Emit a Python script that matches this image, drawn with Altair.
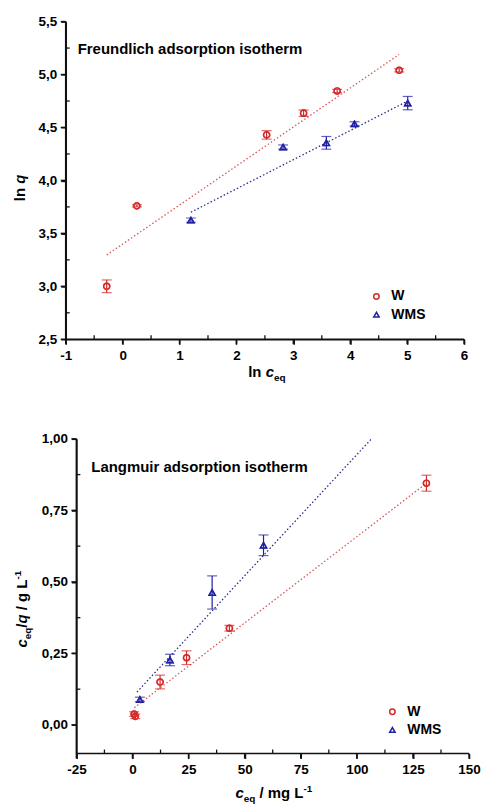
import altair as alt
import pandas as pd

# ---------------- data ----------------
SERIES = ["W", "WMS"]

# Freundlich panel: ln c_eq vs ln q
FR_W_X = [-0.28, 0.25, 2.53, 3.18, 3.77, 4.86]
FR_W_Y = [3.00, 3.76, 4.43, 4.635, 4.845, 5.04]
FR_W_ERR = [0.06, 0.01, 0.04, 0.03, 0.015, 0.015]
FR_WMS_X = [1.20, 2.82, 3.58, 4.075, 5.01]
FR_WMS_Y = [3.625, 4.315, 4.355, 4.534, 4.73]
FR_WMS_ERR = [0.02, 0.02, 0.06, 0.02, 0.063]
FR_FIT_W_X = [-0.28, 4.86]
FR_FIT_W_Y = [3.296, 5.19]
FR_FIT_WMS_X = [1.20, 5.01]
FR_FIT_WMS_Y = [3.70, 4.75]

# Langmuir panel: c_eq vs c_eq/q
LA_W_X = [0.76, 1.28, 12.3, 24.1, 43.2, 131.0]
LA_W_Y = [0.038, 0.030, 0.150, 0.235, 0.338, 0.845]
LA_W_ERR = [0.008, 0.008, 0.024, 0.024, 0.010, 0.028]
LA_WMS_X = [3.3, 16.7, 35.5, 58.4]
LA_WMS_Y = [0.089, 0.227, 0.463, 0.628]
LA_WMS_ERR = [0.008, 0.020, 0.058, 0.036]
LA_FIT_W_X = [0.8, 131.0]
LA_FIT_W_Y = [0.06, 0.845]
LA_FIT_WMS_X = [2.0, 106.5]
LA_FIT_WMS_Y = [0.115, 1.0]

# axis ranges and ticks
FR_X_AXIS = [-1, 6]
FR_Y_AXIS = [2.5, 5.5]
FR_X_TICKS = [-1, 0, 1, 2, 3, 4, 5, 6]
FR_X_MINOR = [-0.5, 0.5, 1.5, 2.5, 3.5, 4.5, 5.5]
FR_Y_TICKS = [2.5, 3.0, 3.5, 4.0, 4.5, 5.0, 5.5]
FR_Y_MINOR = [2.75, 3.25, 3.75, 4.25, 4.75, 5.25]
LA_X_AXIS = [-25, 150]
LA_Y_AXIS = [-0.1, 1.0]
LA_X_TICKS = [-25, 0, 25, 50, 75, 100, 125, 150]
LA_X_MINOR = [-12.5, 12.5, 37.5, 62.5, 87.5, 112.5, 137.5]
LA_Y_TICKS = [0.0, 0.25, 0.5, 0.75, 1.0]
LA_Y_MINOR = [0.125, 0.375, 0.625, 0.875]

FR_TITLE = "Freundlich adsorption isotherm"
LA_TITLE = "Langmuir adsorption isotherm"

# ---------------- style ----------------
FONT = "Liberation Sans"
RED = "#d42a2a"
BLUE = "#2020a4"
RED_LINE = "#d25a5a"
BLUE_LINE = "#2c2c8c"
INK = "#111111"
ONE = pd.DataFrame({"k": [0]})

CHAR_W = {"l": 278, "n": 611, " ": 278, "c": 556, "e": 556, "q": 611, "/": 278,
          "m": 889, "g": 611, "L": 611, "-": 333, "1": 556}


def tw(s, size):
    return sum(CHAR_W.get(ch, 556) for ch in s) * size / 1000.0


def rich(pieces, x, y, angle=0):
    total = sum(tw(t, s) for t, s, _, _ in pieces)
    cur = -total / 2.0
    out = []
    for t, s, st, sh in pieces:
        lead = len(t) - len(t.lstrip(" "))
        vis = t.strip(" ")
        start = cur + tw(" " * lead, s)
        kw = dict(text=vis, font=FONT, fontSize=s, fontWeight="bold", fontStyle=st,
                  align="left", baseline="alphabetic", color="black", dx=start, dy=sh)
        if angle:
            kw["angle"] = angle
        out.append(alt.Chart(ONE).mark_text(**kw).encode(x=alt.value(x), y=alt.value(y)))
        cur += tw(t, s)
    return out


def panel(w_x, w_y, w_err, s_x, s_y, s_err, fw_x, fw_y, fs_x, fs_y,
          xa, ya, xlo, xt, xm, yt, ym, yfmt, W, H, ox,
          title, title_xy, legend_xy, xtitle, ytitle, bound):
    xs = alt.Scale(domain=[xlo, xa[1]], nice=False, zero=False)
    ys = alt.Scale(domain=ya, nice=False, zero=False)
    pts = pd.DataFrame({
        "x": w_x + s_x,
        "y": w_y + s_y,
        "err": w_err + s_err,
        "series": ["W"] * len(w_x) + ["WMS"] * len(s_x),
    })
    pts["lo"] = pts["y"] - pts["err"]
    pts["hi"] = pts["y"] + pts["err"]

    fitw = pd.DataFrame({"x": fw_x, "y": fw_y})
    fits = pd.DataFrame({"x": fs_x, "y": fs_y})

    xaxis = alt.Axis(values=xt, title=None, labelExpr="'' + datum.value", domain=(ox == 0))
    ykw = dict(values=yt, title=None,
               labelExpr="replace(format(datum.value, '" + yfmt + "'), '.', ',')")
    if ox:
        ykw["offset"] = -ox
    yaxis = alt.Axis(**ykw)

    leg = dict(title=None, orient="none", legendX=legend_xy[0], legendY=legend_xy[1],
               labelFont=FONT, labelFontSize=14, labelFontWeight="bold", labelColor="black",
               symbolSize=30, symbolStrokeWidth=1.5, rowPadding=4.3, padding=0, labelOffset=8)

    layers = []
    layers.append(alt.Chart(pts).mark_point(filled=False, size=38, strokeWidth=1.5, opacity=1).encode(
        x=alt.X("x:Q", scale=xs, axis=xaxis),
        y=alt.Y("y:Q", scale=ys, axis=yaxis),
        color=alt.Color("series:N", scale=alt.Scale(domain=SERIES, range=[RED, BLUE]),
                        legend=alt.Legend(**leg)),
        shape=alt.Shape("series:N", scale=alt.Scale(domain=SERIES, range=["circle", "triangle-up"]),
                        legend=alt.Legend(**leg))))

    # ----- axis frame drawn through the scales -----
    xl = pd.DataFrame({"a": [xa[0]], "b": [xa[1]]})
    yl = pd.DataFrame({"xa": [xa[0]], "a": [ya[0]], "b": [ya[1]]})
    layers.append(alt.Chart(xl).mark_rect(color=INK, yOffset=-0.8, y2Offset=0.8).encode(
        x=alt.X("a:Q", scale=xs), x2="b:Q", y=alt.value(H), y2=alt.value(H)))
    layers.append(alt.Chart(yl).mark_rect(color=INK, xOffset=-0.8, x2Offset=0.8).encode(
        x=alt.X("xa:Q", scale=xs), x2="xa:Q", y=alt.Y("a:Q", scale=ys), y2="b:Q"))
    xmaj = pd.DataFrame({"t": xt})
    ymaj = pd.DataFrame({"t": yt, "xa": [xa[0]] * len(yt)})
    xmin_ = pd.DataFrame({"t": xm})
    ymin_ = pd.DataFrame({"t": ym, "xa": [xa[0]] * len(ym)})
    layers.append(alt.Chart(xmaj).mark_tick(color=INK, orient="vertical", size=5, thickness=1.5, opacity=1).encode(
        x=alt.X("t:Q", scale=xs), y=alt.value(H + 2.5)))
    layers.append(alt.Chart(xmin_).mark_tick(color=INK, orient="vertical", size=4, thickness=1.3, opacity=1).encode(
        x=alt.X("t:Q", scale=xs), y=alt.value(H - 2)))
    layers.append(alt.Chart(ymaj).mark_tick(color=INK, orient="horizontal", size=5, thickness=1.5,
                                            xOffset=-2.5, opacity=1).encode(
        x=alt.X("xa:Q", scale=xs), y=alt.Y("t:Q", scale=ys)))
    layers.append(alt.Chart(ymin_).mark_tick(color=INK, orient="horizontal", size=4, thickness=1.3,
                                             xOffset=2, opacity=1).encode(
        x=alt.X("xa:Q", scale=xs), y=alt.Y("t:Q", scale=ys)))

    layers.append(alt.Chart(fitw).mark_line(color=RED_LINE, strokeWidth=1.3, strokeDash=[1.5, 2.2]).encode(
        x=alt.X("x:Q", scale=xs), y=alt.Y("y:Q", scale=ys)))
    layers.append(alt.Chart(fits).mark_line(color=BLUE_LINE, strokeWidth=1.3, strokeDash=[1.5, 2.2]).encode(
        x=alt.X("x:Q", scale=xs), y=alt.Y("y:Q", scale=ys)))
    for ser, col, shp in (("W", RED, "circle"), ("WMS", BLUE, "triangle-up")):
        base = alt.Chart(pts).transform_filter(alt.datum.series == ser)
        layers.append(base.mark_rule(color=col, strokeWidth=1.2).encode(
            x=alt.X("x:Q", scale=xs), y=alt.Y("lo:Q", scale=ys), y2="hi:Q"))
        for f in ("lo", "hi"):
            layers.append(base.mark_tick(color=col, orient="horizontal", size=10, thickness=1.2).encode(
                x=alt.X("x:Q", scale=xs), y=alt.Y(f + ":Q", scale=ys)))
        layers.append(base.mark_point(filled=False, size=38, strokeWidth=1.5, color=col, shape=shp).encode(
            x=alt.X("x:Q", scale=xs), y=alt.Y("y:Q", scale=ys)))

    layers.append(alt.Chart(ONE).mark_text(text=title, font=FONT, fontSize=15, fontWeight="bold",
                                           align="left", baseline="alphabetic", color="black").encode(
        x=alt.value(title_xy[0]), y=alt.value(title_xy[1])))
    layers += rich(xtitle[0], xtitle[1], xtitle[2])
    layers += rich(ytitle[0], ytitle[1], ytitle[2], angle=270)
    layers.append(alt.Chart(ONE).mark_rule(opacity=0, strokeWidth=0.01).encode(
        x=alt.value(bound[0]), y=alt.value(bound[1]), y2=alt.value(bound[2])))
    return alt.layer(*layers).properties(width=W, height=H)


top = panel(FR_W_X, FR_W_Y, FR_W_ERR, FR_WMS_X, FR_WMS_Y, FR_WMS_ERR,
            FR_FIT_W_X, FR_FIT_W_Y, FR_FIT_WMS_X, FR_FIT_WMS_Y,
            FR_X_AXIS, FR_Y_AXIS, -1.0, FR_X_TICKS, FR_X_MINOR, FR_Y_TICKS, FR_Y_MINOR,
            ".1f", 400, 319, 0,
            FR_TITLE, (12, 33), (305, 269),
            ([("ln ", 15, "normal", 0), ("c", 15, "italic", 0), ("eq", 10, "normal", 4)], 202, 357),
            ([("ln ", 15, "normal", 0), ("q", 15, "italic", 0)], -41, 167),
            (-65, -19, 379))

# bottom panel: view starts 10.7 px left of the y axis (the axis sits at x = -25)
bottom = panel(LA_W_X, LA_W_Y, LA_W_ERR, LA_WMS_X, LA_WMS_Y, LA_WMS_ERR,
               LA_FIT_W_X, LA_FIT_W_Y, LA_FIT_WMS_X, LA_FIT_WMS_Y,
               LA_X_AXIS, LA_Y_AXIS, -29.749, LA_X_TICKS, LA_X_MINOR, LA_Y_TICKS, LA_Y_MINOR,
               ".2f", 405, 316, 10.7,
               LA_TITLE, (25.7, 33.5), (321, 267),
               ([("c", 15, "italic", 0), ("eq", 10, "normal", 4), (" / mg L", 15, "normal", 0),
                 ("-1", 10, "normal", -6)], 209, 361),
               ([("c", 15, "italic", 0), ("eq", 10, "normal", 4), ("/", 15, "normal", 0),
                 ("q", 15, "italic", 0), (" / g L", 15, "normal", 0), ("-1", 10, "normal", -6)], -39, 171),
               (-65, -38, 40))

chart = alt.vconcat(top, bottom, spacing=0).resolve_scale(
    x="independent", y="independent", color="independent", shape="independent"
).properties(
    padding={"left": 0, "top": 0, "right": 0, "bottom": 0}
).configure_view(stroke="transparent").configure_axis(
    grid=False, domainColor=INK, domainWidth=1.6,
    ticks=True, tickColor=INK, tickSize=5, tickWidth=1.5, zindex=1,
    labelFont=FONT, labelFontWeight="bold", labelFontSize=13.5, labelColor="black",
    labelPadding=4, labelFlush=False, labelOverlap=False
)

chart.save("out.html", embed_options={"renderer": "svg", "actions": False})
